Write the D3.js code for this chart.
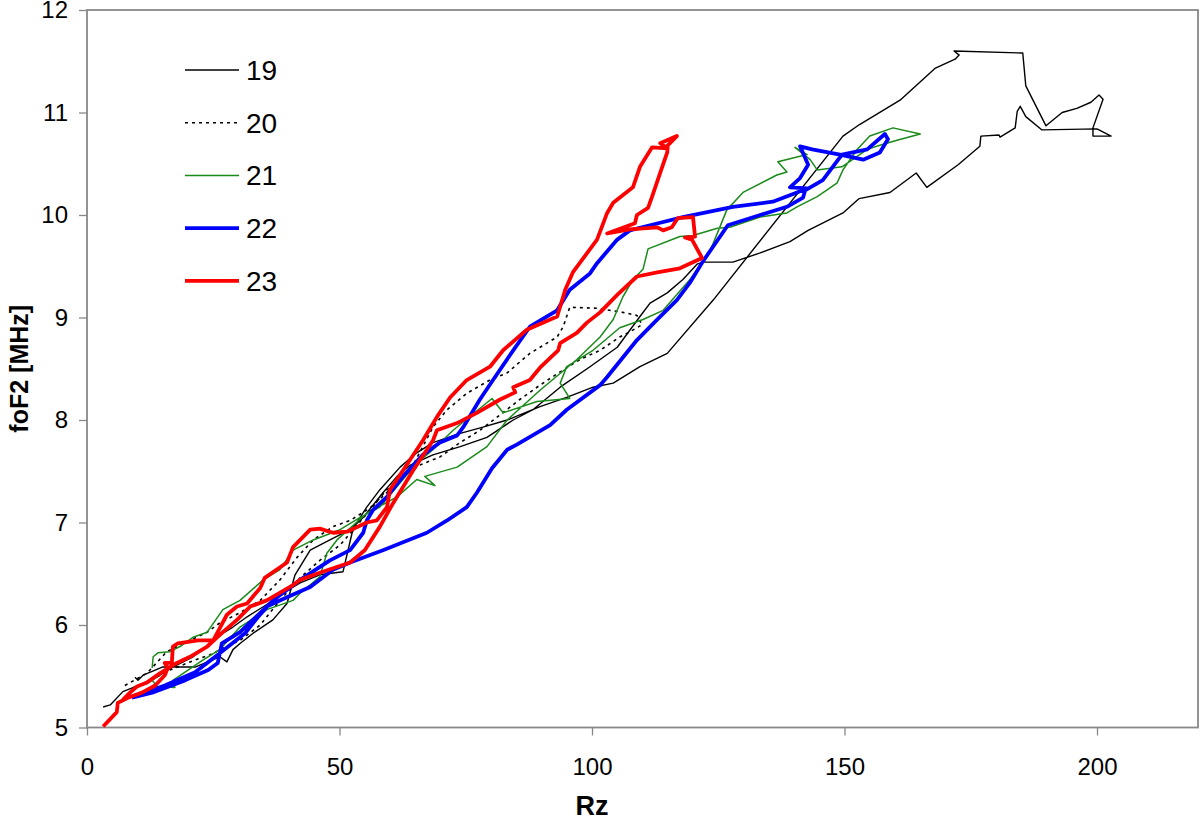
<!DOCTYPE html>
<html>
<head>
<meta charset="utf-8">
<script src="https://cdn.jsdelivr.net/npm/d3@7"></script>
<style>
  body { margin: 0; background: #fff; }
  svg { display: block; font-family: Arial, "Liberation Sans", sans-serif; }
</style>
</head>
<body>
<svg id="chart"></svg>
<script>
// Rz vs foF2 for solar cycles 19-23, each point [Rz, foF2]
const cycle19 = [
  [3.2,5.20],[4.6,5.22],[7.1,5.35],[9.1,5.39],[11.9,5.43],[17.0,5.59],[21.0,5.69],[23.8,5.79],
  [26.3,5.90],[28.9,5.98],[31.7,6.08],[35.6,6.20],[38.8,6.31],[42.2,6.41],[46.1,6.49],[50.7,6.52],
  [52.5,6.90],[53.7,7.02],[55.4,7.15],[58.0,7.32],[62.0,7.54],[65.3,7.68],[68.5,7.78],[73.9,7.87],
  [78.4,7.93],[83.2,8.00],[89.7,8.13],[95.0,8.22],[100.2,8.32],[104.2,8.36],[109.5,8.52],[114.9,8.65],
  [124.0,9.17],[149.7,10.77],[152.9,10.88],[161.0,11.12],[167.9,11.43],[171.9,11.52],[172.7,11.56],
  [171.7,11.60],[185.3,11.58],[185.9,11.26],[189.9,10.87],[193.1,11.00],[196.0,11.04],[198.8,11.10],
  [200.4,11.17],[201.2,11.13],[199.2,10.85],[199.2,10.77],[202.8,10.77],[200.0,10.84],[189.1,10.83],
  [185.9,10.96],[184.8,11.06],[184.2,11.01],[183.8,10.85],[180.8,10.76],[180.6,10.78],[177.0,10.77],
  [176.8,10.67],[172.5,10.49],[166.3,10.27],[164.2,10.41],[159.0,10.22],[152.9,10.16],[149.7,10.02],
  [142.8,9.85],[139.2,9.74],[133.3,9.63],[127.9,9.54],[122.0,9.54],[120.8,9.52],[118.0,9.37],
  [114.9,9.24],[111.5,9.14],[109.5,9.01],[105.0,8.71],[99.6,8.52],[93.7,8.32],[88.3,8.10],[84.4,8.00],
  [79.2,7.83],[73.9,7.74],[68.5,7.66],[64.0,7.56],[61.4,7.45],[58.6,7.29],[54.7,7.05],[52.1,6.93],
  [48.1,6.83],[44.2,6.73],[41.2,6.49],[39.6,6.21],[36.8,6.05],[32.9,5.92],[30.3,5.82],[28.9,5.76],
  [27.7,5.64],[26.3,5.69],[21.4,5.59],[14.9,5.59],[13.5,5.56],[11.1,5.51],[10.1,5.46],[9.5,5.49]
];

const cycle20 = [
  [7.5,5.41],[11.9,5.53],[15.8,5.74],[20.4,5.85],[23.8,5.93],[26.3,6.02],[30.3,6.12],[34.3,6.24],
  [38.2,6.44],[41.6,6.66],[44.8,6.83],[48.7,6.96],[52.1,7.02],[56.0,7.14],[60.0,7.32],[64.0,7.51],
  [66.5,7.74],[68.5,7.93],[71.3,8.10],[75.2,8.26],[79.8,8.39],[83.2,8.46],[87.7,8.65],[93.1,8.81],
  [94.3,8.91],[95.6,9.10],[101.0,9.09],[106.1,9.05],[108.9,9.02],[109.9,8.93],[107.5,8.86],[105.5,8.81],
  [101.6,8.68],[97.6,8.59],[93.7,8.47],[89.7,8.34],[85.7,8.20],[81.8,8.05],[77.8,7.90],[73.9,7.78],
  [69.9,7.64],[65.9,7.56],[62.0,7.43],[59.0,7.30],[56.0,7.12],[53.1,6.95],[50.1,6.78],[46.1,6.63],
  [42.2,6.46],[38.2,6.24],[34.3,6.00],[30.3,5.85],[27.7,5.79],[24.4,5.71],[20.4,5.64],[16.4,5.56],
  [12.5,5.46],[8.5,5.37]
];

const cycle21 = [
  [12.9,5.46],[13.9,5.40],[17.4,5.39],[17.0,5.46],[23.0,5.66],[26.3,5.76],[30.3,5.98],[35.6,6.15],
  [40.8,6.24],[42.2,6.31],[46.1,6.47],[47.5,6.70],[49.5,6.83],[55.4,7.09],[61.4,7.25],[65.3,7.42],
  [68.9,7.36],[66.9,7.45],[73.3,7.54],[79.2,7.74],[83.2,8.00],[89.7,8.29],[97.0,8.59],[101.6,8.81],
  [104.2,8.98],[106.1,9.20],[108.1,9.37],[110.1,9.47],[111.1,9.67],[117.4,9.79],[120.0,9.80],
  [124.8,9.87],[127.3,9.88],[133.3,9.98],[138.6,10.02],[140.6,10.08],[144.6,10.18],[148.5,10.31],
  [149.7,10.44],[152.5,10.64],[155.0,10.77],[159.6,10.85],[165.0,10.79],[160.4,10.73],[157.0,10.68],
  [154.5,10.64],[149.5,10.47],[144.6,10.44],[143.2,10.54],[140.2,10.66],[142.6,10.59],[136.8,10.52],
  [138.6,10.42],[136.6,10.39],[129.9,10.22],[126.7,10.05],[123.4,9.65],[119.4,9.37],[114.1,9.07],
  [110.1,8.98],[105.5,8.90],[100.2,8.68],[95.0,8.52],[93.7,8.36],[95.6,8.21],[89.1,8.18],[82.4,8.07],
  [80.2,8.21],[72.5,7.90],[68.5,7.71],[65.3,7.58],[58.0,7.15],[54.1,7.05],[50.1,6.93],[44.8,6.83],
  [40.8,6.73],[38.2,6.54],[34.9,6.44],[30.3,6.24],[26.9,6.15],[23.8,5.93],[21.0,5.88],[18.4,5.79],
  [16.4,5.74],[14.1,5.73],[13.1,5.69],[12.9,5.58]
];

const cycle22 = [
  [8.9,5.29],[12.9,5.34],[19.4,5.46],[24.0,5.56],[25.9,5.63],[26.7,5.82],[30.3,5.93],[35.6,6.18],
  [39.6,6.27],[44.2,6.37],[48.7,6.54],[52.1,6.61],[58.6,6.73],[67.3,6.90],[71.3,7.02],[75.2,7.15],
  [77.2,7.29],[80.2,7.53],[83.2,7.71],[85.1,7.76],[91.7,7.95],[95.0,8.10],[101.6,8.34],[103.0,8.42],
  [108.9,8.78],[112.9,8.98],[116.8,9.17],[119.4,9.34],[122.0,9.55],[126.9,9.90],[133.3,10.00],
  [138.6,10.08],[141.8,10.17],[142.2,10.24],[145.7,10.34],[149.5,10.59],[154.5,10.64],[158.0,10.79],
  [158.6,10.74],[157.0,10.61],[153.7,10.54],[149.1,10.59],[143.6,10.64],[141.2,10.67],[142.8,10.49],
  [141.2,10.36],[139.2,10.27],[142.6,10.26],[140.6,10.22],[135.8,10.13],[127.9,10.08],[118.0,9.98],
  [111.5,9.90],[107.5,9.85],[105.0,9.76],[101.0,9.53],[99.6,9.43],[95.6,9.27],[93.1,9.07],[87.7,8.91],
  [84.4,8.68],[80.4,8.39],[77.8,8.20],[74.5,7.93],[73.3,7.85],[69.9,7.78],[66.5,7.66],[62.6,7.45],
  [59.4,7.25],[56.6,7.12],[55.4,7.02],[54.7,6.90],[52.1,6.73],[48.1,6.63],[42.2,6.44],[36.8,6.24],
  [33.9,6.08],[31.3,5.92],[25.9,5.71],[21.4,5.54],[15.4,5.41],[11.5,5.34]
];

const cycle23 = [
  [3.2,5.01],[5.9,5.15],[6.1,5.24],[8.1,5.29],[10.9,5.34],[13.5,5.41],[15.4,5.51],[16.0,5.58],
  [15.4,5.63],[16.8,5.63],[17.0,5.79],[18.0,5.82],[22.0,5.85],[25.0,5.85],[27.7,6.10],[29.7,6.18],
  [31.7,6.21],[34.3,6.36],[35.2,6.46],[39.6,6.61],[40.8,6.76],[44.2,6.93],[46.1,6.94],[48.7,6.90],
  [51.5,6.91],[55.4,7.00],[57.4,7.02],[59.4,7.15],[60.0,7.32],[62.6,7.51],[66.5,7.80],[69.3,8.03],
  [71.9,8.22],[75.2,8.39],[79.8,8.52],[82.4,8.68],[87.1,8.88],[93.1,9.01],[94.7,9.27],[96.2,9.44],
  [101.0,9.76],[103.0,10.02],[104.2,10.12],[108.1,10.27],[109.5,10.47],[111.9,10.66],[115.0,10.65],
  [113.5,10.70],[116.8,10.77],[115.0,10.68],[114.9,10.61],[113.5,10.41],[111.9,10.18],[111.1,10.07],
  [108.9,10.00],[108.5,9.92],[103.0,9.82],[107.5,9.86],[112.9,9.88],[114.1,9.85],[115.8,9.88],
  [117.0,9.97],[120.0,9.98],[120.4,9.79],[118.4,9.78],[119.8,9.76],[121.8,9.58],[117.4,9.48],
  [112.9,9.44],[108.9,9.40],[105.0,9.22],[101.6,9.05],[99.0,8.95],[97.0,8.85],[93.7,8.75],[93.3,8.68],
  [89.7,8.51],[87.7,8.39],[84.4,8.32],[84.8,8.27],[81.8,8.20],[77.2,8.07],[73.3,7.97],[69.3,7.90],
  [68.5,7.80],[64.6,7.51],[60.4,7.17],[58.0,6.96],[55.0,6.73],[52.1,6.61],[46.1,6.51],[42.2,6.44],
  [40.8,6.39],[35.6,6.24],[32.3,6.18],[29.7,6.05],[26.9,5.93],[23.8,5.79],[20.4,5.69],[17.8,5.63],
  [14.5,5.53],[11.9,5.44],[9.9,5.40],[8.5,5.34],[7.1,5.27]
];

const cycleNames = ["19", "20", "21", "22", "23"];
const xTicks = [0, 50, 100, 150, 200];
const yTicks = [5, 6, 7, 8, 9, 10, 11, 12];

document.addEventListener("DOMContentLoaded", function () {
    const W = 1200, H = 821;
    const margin = { top: 10, right: 2, bottom: 93.5, left: 87 };
    const width = W - margin.left - margin.right;
    const height = H - margin.top - margin.bottom;

    const svg = d3.select("#chart").attr("width", W).attr("height", H);
    svg.append("rect").attr("width", W).attr("height", H).attr("fill", "#fff");

    const g = svg.append("g").attr("transform", `translate(${margin.left},${margin.top})`);

    const x = d3.scaleLinear().domain([0, 220]).range([0, width]);
    const y = d3.scaleLinear().domain([5, 12]).range([height, 0]);

    // series styles, same order as cycleNames
    const styles = [
        { color: "#000000", width: 1.4, dash: null },
        { color: "#000000", width: 1.6, dash: "3,4" },
        { color: "#1a8a1a", width: 1.5, dash: null },
        { color: "#0000ff", width: 3.8, dash: null },
        { color: "#ff0000", width: 3.8, dash: null }
    ];
    const series = [cycle19, cycle20, cycle21, cycle22, cycle23];

    // axes
    const xAxis = g.append("g")
        .attr("transform", `translate(0,${height})`)
        .call(d3.axisBottom(x).tickValues(xTicks).tickFormat(d3.format("d")).tickSize(8).tickPadding(22));
    const yAxis = g.append("g")
        .call(d3.axisLeft(y).tickValues(yTicks).tickFormat(d3.format("d")).tickSize(8).tickPadding(11));

    [xAxis, yAxis].forEach(a => {
        a.select(".domain").remove();
        a.selectAll(".tick line").attr("stroke", "#888").attr("stroke-width", 1.3);
        a.selectAll(".tick text")
            .attr("fill", "#000")
            .style("font-size", "24px")
            .style("font-family", "Arial, 'Liberation Sans', sans-serif");
    });

    // plot frame
    g.append("rect")
        .attr("x", 0).attr("y", 0)
        .attr("width", width).attr("height", height)
        .attr("fill", "none")
        .attr("stroke", "#888")
        .attr("stroke-width", 1.8);

    const line = d3.line()
        .x(d => x(d[0]))
        .y(d => y(d[1]));

    series.forEach((data, i) => {
        g.append("path")
            .datum(data)
            .attr("fill", "none")
            .attr("stroke", styles[i].color)
            .attr("stroke-width", styles[i].width)
            .attr("stroke-dasharray", styles[i].dash)
            .attr("stroke-linejoin", "round")
            .attr("d", line);
    });

    // legend
    const legend = svg.append("g").attr("transform", "translate(185,70)");
    cycleNames.forEach((name, i) => {
        const row = legend.append("g").attr("transform", `translate(0,${i * 52.7})`);
        row.append("line")
            .attr("x1", 0).attr("x2", 54)
            .attr("stroke", styles[i].color)
            .attr("stroke-width", styles[i].width)
            .attr("stroke-dasharray", styles[i].dash);
        row.append("text")
            .attr("x", 61).attr("y", 0)
            .attr("dy", "0.36em")
            .style("font-size", "28px")
            .text(name);
    });

    // axis titles
    svg.append("text")
        .attr("x", margin.left + x(100)).attr("y", 815)
        .attr("text-anchor", "middle")
        .style("font-size", "27px")
        .style("font-weight", "bold")
        .text("Rz");

    svg.append("text")
        .attr("transform", `translate(28,${margin.top + height / 2}) rotate(-90)`)
        .attr("text-anchor", "middle")
        .style("font-size", "25px")
        .style("font-weight", "bold")
        .text("foF2 [MHz]");
});
</script>
</body>
</html>
